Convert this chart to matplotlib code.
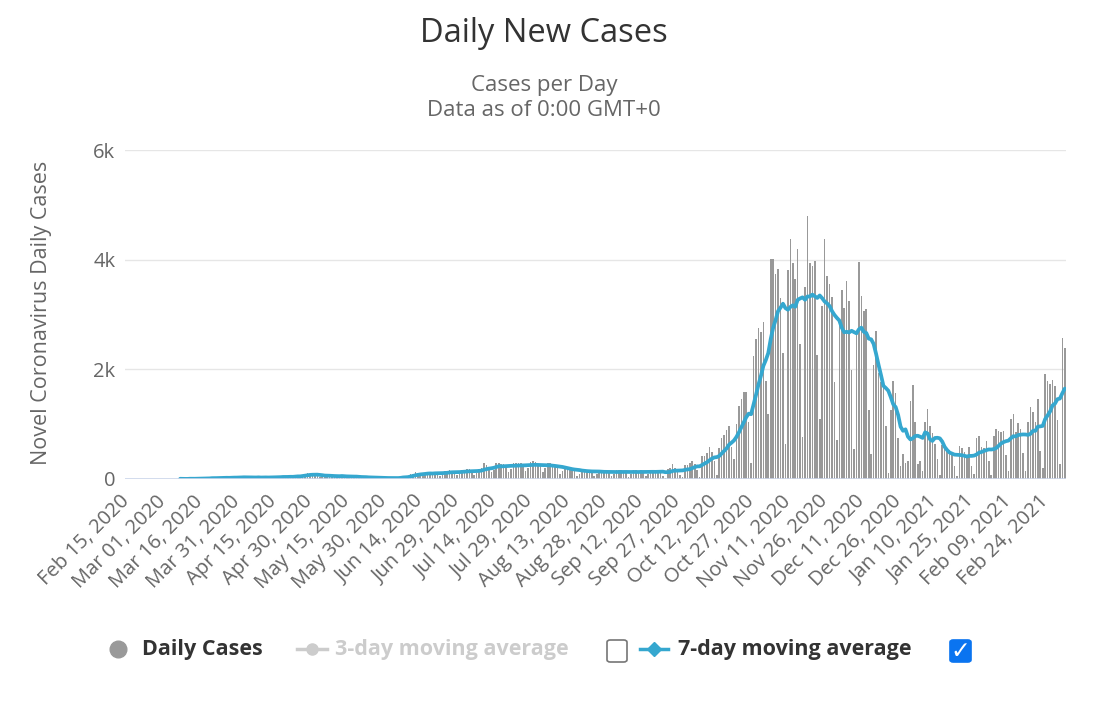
import matplotlib
matplotlib.use("Agg")
import matplotlib.pyplot as plt
from matplotlib.lines import Line2D
from matplotlib.patches import FancyBboxPatch
import numpy as np
import pandas as pd

plt.rcParams["font.family"] = ["Open Sans", "DejaVu Sans"]

# daily new cases, Feb 15 2020 .. Mar 4 2021, one row per week (Sat..Fri)
start_date = "2020-02-15"
daily_cases = [
    0, 0, 0, 0, 0, 0, 0,
    0, 0, 0, 0, 0, 0, 0,
    0, 0, 0, 0, 0, 0, 0,
    0, 4, 0, 2, 1, 16, 0,
    8, 10, 10, 5, 13, 11, 22,
    36, 12, 17, 17, 22, 22, 29,
    30, 28, 27, 20, 40, 26, 45,
    22, 22, 29, 14, 35, 43, 24,
    31, 25, 21, 26, 40, 50, 33,
    42, 49, 20, 33, 54, 47, 60,
    70, 52, 70, 80, 101, 90, 80,
    75, 60, 41, 40, 53, 84, 64,
    53, 45, 35, 25, 75, 54, 48,
    41, 47, 19, 21, 45, 34, 40,
    29, 22, 11, 13, 33, 21, 26,
    18, 10, 6, 10, 20, 22, 35,
    45, 60, 25, 35, 90, 100, 120,
    105, 110, 55, 70, 130, 120, 110,
    130, 115, 60, 85, 150, 140, 160,
    150, 120, 65, 100, 170, 160, 190,
    175, 130, 80, 110, 190, 200, 300,
    250, 200, 120, 170, 290, 300, 280,
    270, 230, 130, 180, 300, 300, 300,
    290, 240, 140, 200, 310, 320, 310,
    280, 240, 120, 200, 300, 290, 280,
    240, 200, 90, 140, 230, 220, 200,
    180, 150, 60, 100, 170, 180, 170,
    160, 130, 55, 90, 170, 160, 150,
    160, 120, 50, 95, 160, 165, 160,
    150, 125, 45, 90, 170, 160, 155,
    160, 120, 50, 95, 170, 165, 150,
    170, 130, 60, 25, 180, 200, 265,
    200, 140, 80, 30, 250, 260, 290,
    330, 280, 170, 40, 420, 420, 480,
    575, 500, 320, 80, 560, 750, 800,
    900, 970, 575, 360, 1006, 1327, 1450,
    1580, 1580, 1037, 296, 2240, 2560, 2750,
    2685, 2870, 1780, 1190, 4020, 4020, 3730,
    3830, 3300, 2290, 630, 3810, 4370, 3940,
    3640, 4190, 2470, 770, 3500, 4790, 3940,
    3880, 3970, 2260, 1090, 3150, 4370, 3700,
    3550, 3320, 1770, 710, 2810, 3450, 3120,
    3610, 3240, 1980, 540, 2660, 3960, 3330,
    3070, 3100, 1260, 450, 2070, 2700, 1930,
    1760, 1720, 975, 110, 1260, 1780, 1570,
    750, 235, 450, 295, 330, 1420, 1720,
    1040, 265, 330, 140, 1040, 1280, 970,
    840, 635, 360, 70, 620, 600, 560,
    530, 500, 230, 50, 600, 560, 500,
    430, 580, 230, 90, 740, 790, 585,
    560, 690, 320, 80, 790, 920, 870,
    860, 870, 440, 150, 1090, 1180, 850,
    1030, 920, 470, 140, 1040, 1310, 1230,
    1040, 1450, 510, 200, 1910, 1780, 1730,
    1810, 1690, 1070, 280, 2580, 2380,
]
y_ticks = [0, 2000, 4000, 6000]
y_tick_labels = ["0", "2k", "4k", "6k"]

dates = pd.date_range(start_date, periods=len(daily_cases), freq="D")
cases = pd.Series(daily_cases, index=dates, dtype=float)
first_case = cases[cases > 0].index[0]
ma7 = cases[first_case:].rolling(7, min_periods=1).mean()

BAR = "#999999"
LINE = "#35a7cf"
TXT = "#333333"
SUB = "#666666"

W, H = 1100, 724
fig = plt.figure(figsize=(W / 100, H / 100), dpi=100)
ax = fig.add_axes([125 / W, 1 - 479 / H, (1066 - 125) / W, (479 - 150) / H])

ax.bar(dates, cases.values, width=0.65, color=BAR, edgecolor="none", zorder=2)
ax.plot(ma7.index, ma7.values, color=LINE, lw=2.7, solid_joinstyle="round",
        solid_capstyle="round", zorder=3)

ax.set_xlim(dates[0] - pd.Timedelta(hours=12), dates[-1] + pd.Timedelta(hours=12))
ax.set_ylim(0, 6000)
for s in ax.spines.values():
    s.set_visible(False)
ax.axhline(0, color="#ccd6eb", lw=1.2, zorder=4)
ax.set_yticks(y_ticks)
ax.set_yticklabels(y_tick_labels)
ax.yaxis.grid(True, color="#e6e6e6", lw=1)
ax.set_axisbelow(True)
ax.tick_params(axis="y", length=0, pad=7, labelsize=14.5, labelcolor=SUB)

xt = dates[::15]
ax.set_xticks(xt)
ax.set_xticklabels([d.strftime("%b %d, %Y") for d in xt], rotation=45,
                   ha="right", va="center", rotation_mode="anchor")
ax.tick_params(axis="x", length=0, pad=14, labelsize=14.5, labelcolor=SUB)

fig.text(544 / W, 1 - 33 / H, "Daily New Cases", ha="center", va="center",
         fontsize=23.5, color=TXT)
fig.text(544 / W, 1 - 86 / H, "Cases per Day", ha="center", va="center",
         fontsize=16, color=SUB)
fig.text(544 / W, 1 - 110 / H, "Data as of 0:00 GMT+0", ha="center", va="center",
         fontsize=16, color=SUB)
fig.text(42 / W, 1 - 313 / H, "Novel Coronavirus Daily Cases", rotation=90,
         ha="center", va="center", fontsize=15.5, color=SUB)

# legend
ly = 1 - 649 / H
fig.add_artist(Line2D([118 / W], [ly], marker="o", ms=12, color=BAR, lw=0,
                      transform=fig.transFigure))
fig.text(142 / W, 1 - 650 / H, "Daily Cases", ha="left", va="center", fontsize=15.5,
         fontweight="bold", color=TXT)
fig.add_artist(Line2D([297 / W, 327 / W], [ly, ly], color="#cccccc", lw=2.5,
                      transform=fig.transFigure))
fig.add_artist(Line2D([312 / W], [ly], marker="o", ms=8, color="#cccccc", lw=0,
                      transform=fig.transFigure))
fig.text(335 / W, 1 - 650 / H, "3-day moving average", ha="left", va="center",
         fontsize=15.5, fontweight="bold", color="#cccccc")
fig.add_artist(Line2D([640 / W, 668 / W], [ly, ly], color=LINE, lw=2.5,
                      transform=fig.transFigure))
fig.add_artist(Line2D([654 / W], [ly], marker="D", ms=7, color=LINE, lw=0,
                      transform=fig.transFigure))
fig.text(678 / W, 1 - 650 / H, "7-day moving average", ha="left", va="center",
         fontsize=15.5, fontweight="bold", color=TXT)

box1 = FancyBboxPatch((607 / W, 1 - 662 / H), 20 / W, 22 / H,
                      boxstyle="round,pad=0,rounding_size=0.003",
                      facecolor="white", edgecolor="#767676", lw=1.2,
                      transform=fig.transFigure)
box2 = FancyBboxPatch((950 / W, 1 - 662 / H), 21 / W, 22 / H,
                      boxstyle="round,pad=0,rounding_size=0.003",
                      facecolor="#0a74f0", edgecolor="#0a74f0", lw=1.2,
                      transform=fig.transFigure)
fig.add_artist(box1)
fig.add_artist(box2)
fig.text(960.5 / W, 1 - 651 / H, "\u2713", ha="center", va="center", fontsize=17,
         fontweight="bold", color="white", family=["DejaVu Sans"])

fig.savefig("out.png", dpi=100, facecolor="white")
